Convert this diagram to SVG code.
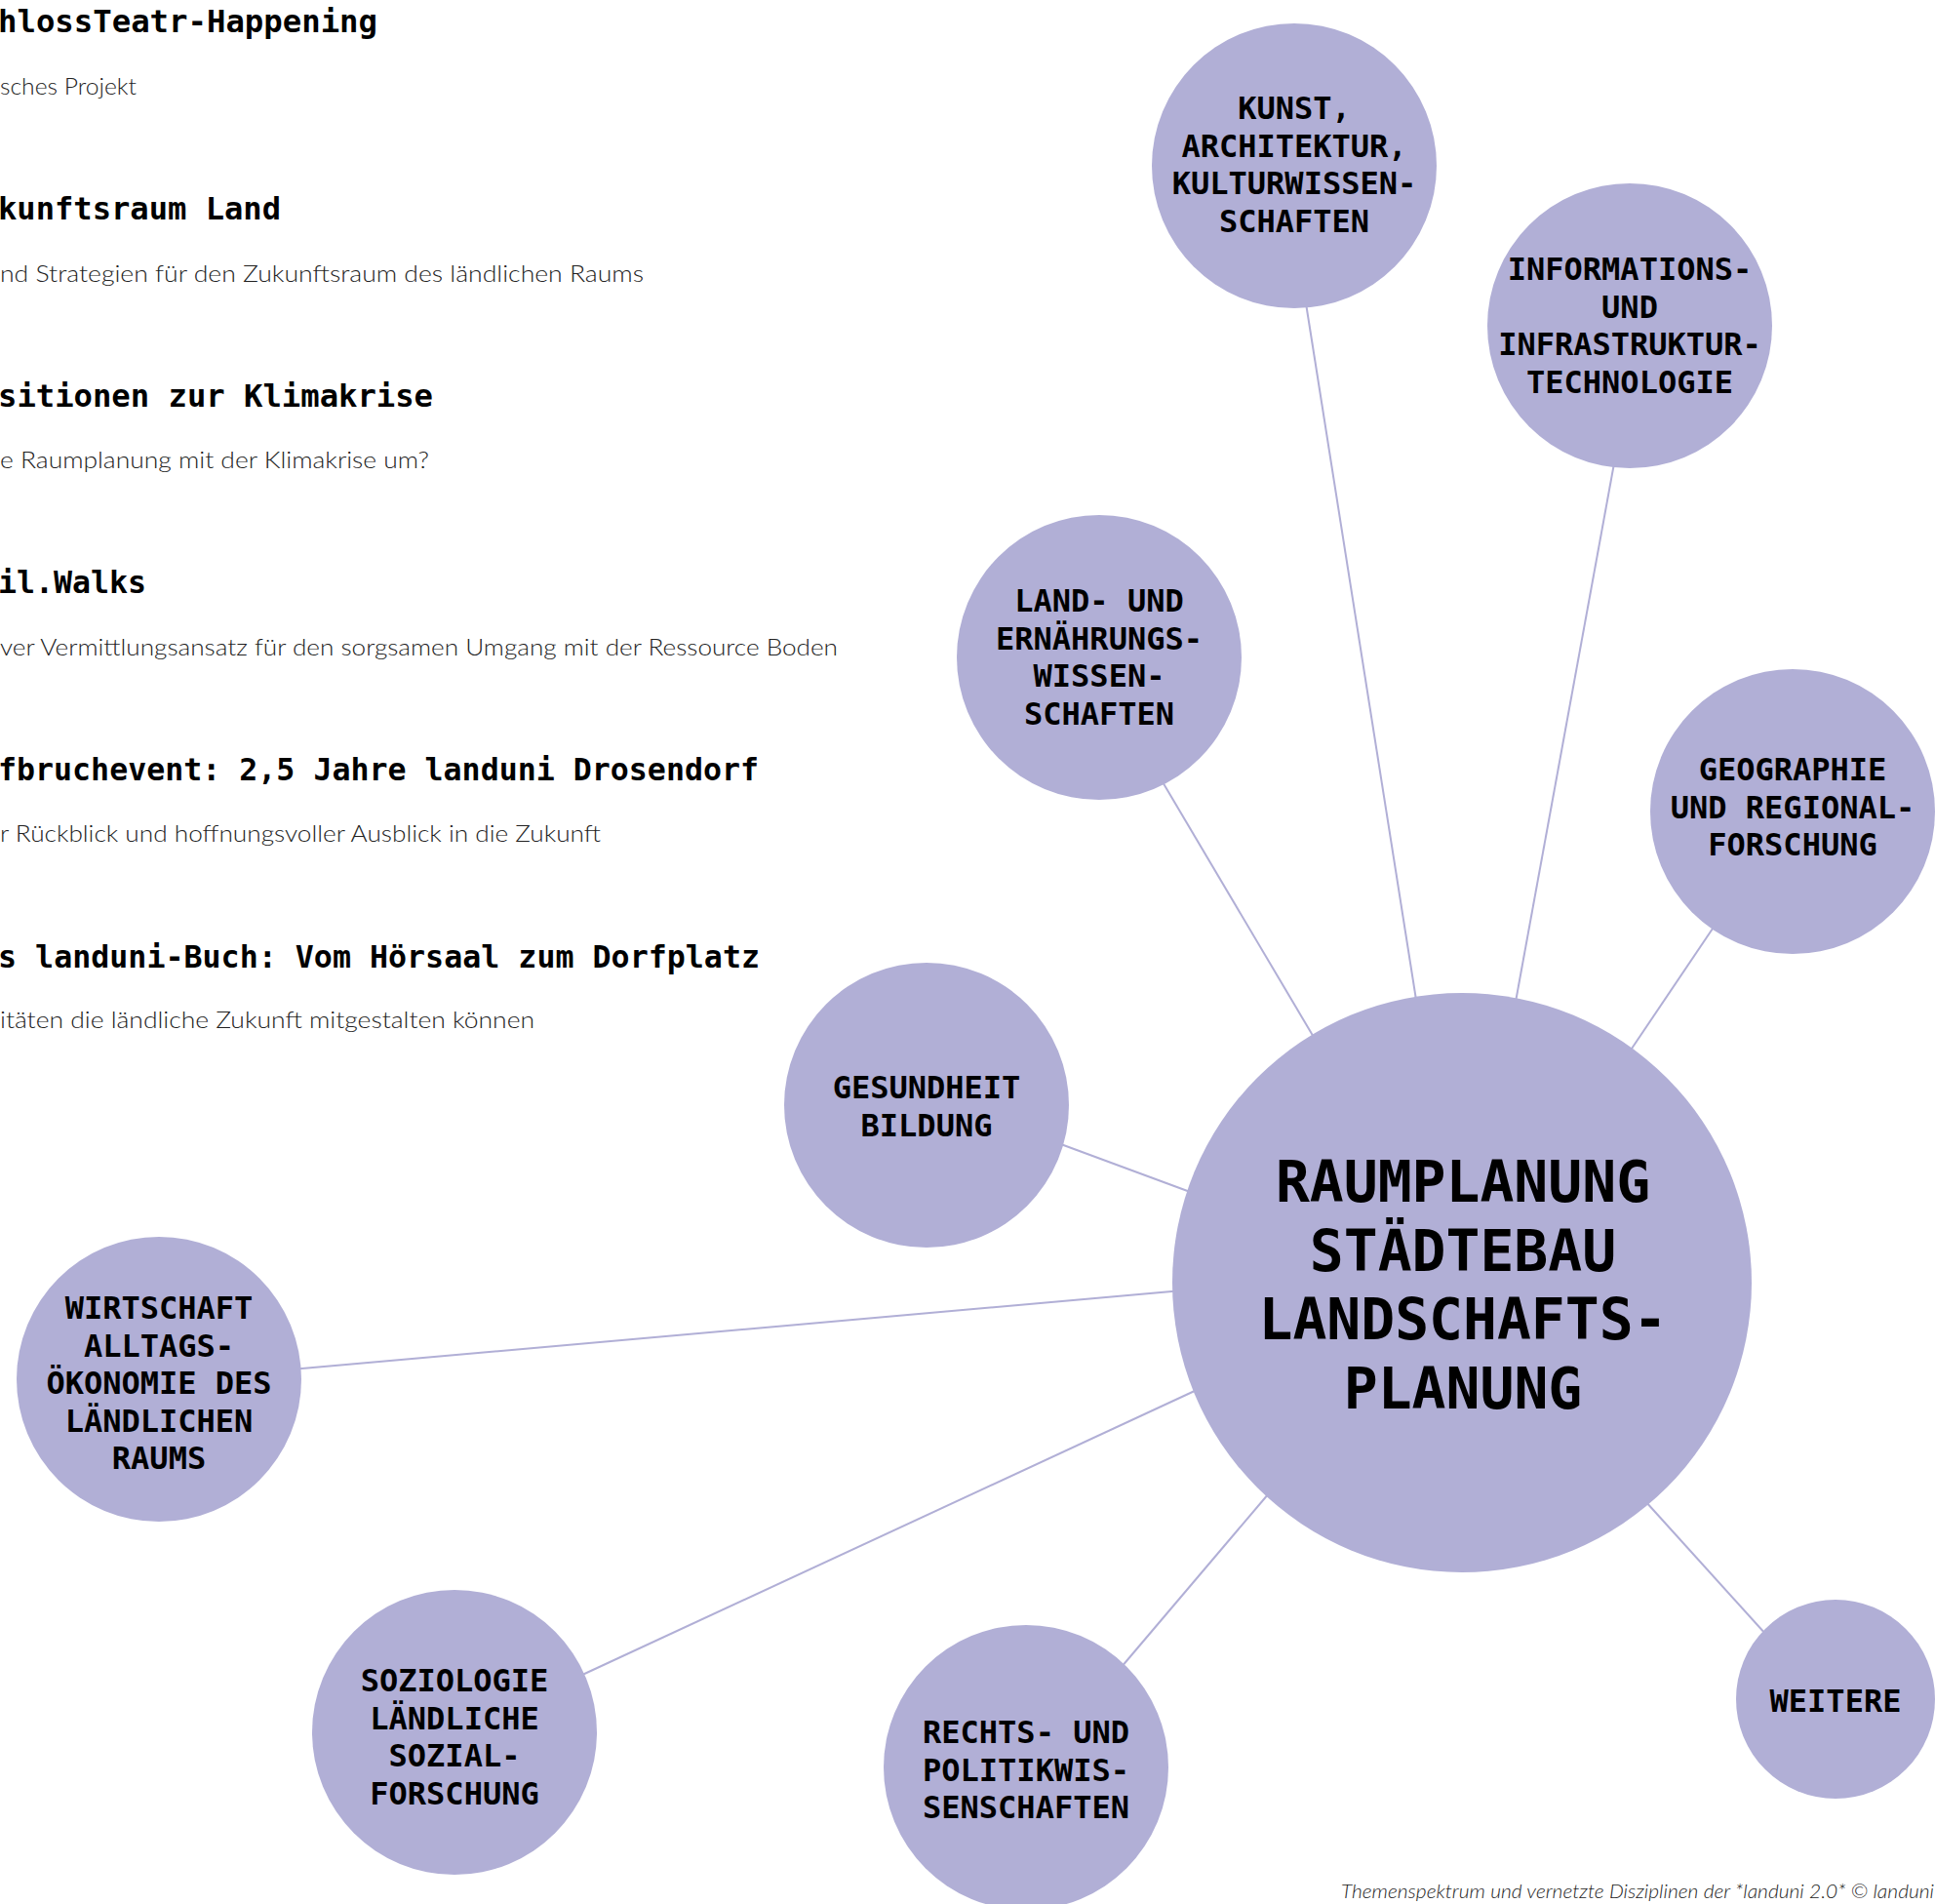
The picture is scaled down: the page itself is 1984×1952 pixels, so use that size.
<svg xmlns="http://www.w3.org/2000/svg" width="1984" height="1952" viewBox="0 0 1984 1952">
<style>
.bg{fill:#ffffff}
.node{fill:#b1afd6}
.edge{stroke:#b1afd6;stroke-width:2;fill:none}
.lbl{font-family:"DejaVu Sans Mono","Liberation Mono",monospace;font-weight:bold;font-size:32px;fill:#000;text-anchor:middle}
.big{font-family:"DejaVu Sans Mono","Liberation Mono",monospace;font-weight:bold;font-size:58px;fill:#000;text-anchor:middle}
.head{font-family:"DejaVu Sans Mono","Liberation Mono",monospace;font-weight:bold;font-size:32px;fill:#000}
.sub{font-family:Lato,"Open Sans","Noto Sans",sans-serif;font-weight:300;font-size:23px;fill:#222}
.cap{font-family:Lato,"Open Sans","Noto Sans",sans-serif;font-weight:300;font-style:italic;font-size:19px;fill:#222}
</style>
<rect class="bg" x="0" y="0" width="1984" height="1952"/>

<g id="list">
<text class="head" x="-2" y="33" textLength="389" lengthAdjust="spacingAndGlyphs">hlossTeatr-Happening</text>
<text class="sub" x="0" y="97" textLength="140" lengthAdjust="spacingAndGlyphs">sches Projekt</text>
<text class="head" x="-2" y="225" textLength="290" lengthAdjust="spacingAndGlyphs">kunftsraum Land</text>
<text class="sub" x="0" y="289" textLength="660" lengthAdjust="spacingAndGlyphs">nd Strategien für den Zukunftsraum des ländlichen Raums</text>
<text class="head" x="-2" y="417" textLength="446" lengthAdjust="spacingAndGlyphs">sitionen zur Klimakrise</text>
<text class="sub" x="0" y="480" textLength="440" lengthAdjust="spacingAndGlyphs">e Raumplanung mit der Klimakrise um?</text>
<text class="head" x="-2" y="608" textLength="152" lengthAdjust="spacingAndGlyphs">il.Walks</text>
<text class="sub" x="0" y="672" textLength="859" lengthAdjust="spacingAndGlyphs">ver Vermittlungsansatz für den sorgsamen Umgang mit der Ressource Boden</text>
<text class="head" x="-2" y="800" textLength="780" lengthAdjust="spacingAndGlyphs">fbruchevent: 2,5 Jahre landuni Drosendorf</text>
<text class="sub" x="0" y="863" textLength="616" lengthAdjust="spacingAndGlyphs">r Rückblick und hoffnungsvoller Ausblick in die Zukunft</text>
<text class="head" x="-2" y="992" textLength="781" lengthAdjust="spacingAndGlyphs">s landuni-Buch: Vom Hörsaal zum Dorfplatz</text>
<text class="sub" x="0" y="1054" textLength="548" lengthAdjust="spacingAndGlyphs">itäten die ländliche Zukunft mitgestalten können</text>
</g>

<g id="connectors">
<line class="edge" x1="1339" y1="311" x2="1452" y2="1025"/>
<line class="edge" x1="1655" y1="475" x2="1554" y2="1027"/>
<line class="edge" x1="1191" y1="800" x2="1348" y2="1065"/>
<line class="edge" x1="1758" y1="949" x2="1671" y2="1078"/>
<line class="edge" x1="1085" y1="1172" x2="1223" y2="1223"/>
<line class="edge" x1="304" y1="1403.5" x2="1207" y2="1323.5"/>
<line class="edge" x1="595" y1="1718" x2="1227" y2="1425"/>
<line class="edge" x1="1149" y1="1710" x2="1301" y2="1531"/>
<line class="edge" x1="1687" y1="1539" x2="1811" y2="1676"/>
</g>

<g id="kunst">
<circle class="node" cx="1327" cy="170" r="146"/>
<text class="lbl" x="1327" y="122">KUNST,</text>
<text class="lbl" x="1327" y="160.5">ARCHITEKTUR,</text>
<text class="lbl" x="1327" y="199">KULTURWISSEN-</text>
<text class="lbl" x="1327" y="237.5">SCHAFTEN</text>
</g>

<g id="information">
<circle class="node" cx="1671" cy="334" r="146"/>
<text class="lbl" x="1671" y="287">INFORMATIONS-</text>
<text class="lbl" x="1671" y="325.5">UND</text>
<text class="lbl" x="1671" y="364">INFRASTRUKTUR-</text>
<text class="lbl" x="1671" y="402.5">TECHNOLOGIE</text>
</g>

<g id="land">
<circle class="node" cx="1127" cy="674" r="146"/>
<text class="lbl" x="1127" y="627">LAND- UND</text>
<text class="lbl" x="1127" y="665.5">ERNÄHRUNGS-</text>
<text class="lbl" x="1127" y="704">WISSEN-</text>
<text class="lbl" x="1127" y="742.5">SCHAFTEN</text>
</g>

<g id="geographie">
<circle class="node" cx="1838" cy="832" r="146"/>
<text class="lbl" x="1838" y="800">GEOGRAPHIE</text>
<text class="lbl" x="1838" y="838.5">UND REGIONAL-</text>
<text class="lbl" x="1838" y="877">FORSCHUNG</text>
</g>

<g id="gesundheit">
<circle class="node" cx="950" cy="1133" r="146"/>
<text class="lbl" x="950" y="1126">GESUNDHEIT</text>
<text class="lbl" x="950" y="1164.5">BILDUNG</text>
</g>

<g id="raumplanung">
<circle class="node" cx="1499" cy="1315" r="297"/>
<text class="big" x="1500" y="1232">RAUMPLANUNG</text>
<text class="big" x="1500" y="1302.5">STÄDTEBAU</text>
<text class="big" x="1500" y="1373">LANDSCHAFTS-</text>
<text class="big" x="1500" y="1443.5">PLANUNG</text>
</g>

<g id="wirtschaft">
<circle class="node" cx="163" cy="1414" r="146"/>
<text class="lbl" x="163" y="1352">WIRTSCHAFT</text>
<text class="lbl" x="163" y="1390.5">ALLTAGS-</text>
<text class="lbl" x="163" y="1429">ÖKONOMIE DES</text>
<text class="lbl" x="163" y="1467.5">LÄNDLICHEN</text>
<text class="lbl" x="163" y="1506">RAUMS</text>
</g>

<g id="soziologie">
<circle class="node" cx="466" cy="1776" r="146"/>
<text class="lbl" x="466" y="1734">SOZIOLOGIE</text>
<text class="lbl" x="466" y="1772.5">LÄNDLICHE</text>
<text class="lbl" x="466" y="1811">SOZIAL-</text>
<text class="lbl" x="466" y="1849.5">FORSCHUNG</text>
</g>

<g id="rechts">
<circle class="node" cx="1052" cy="1812" r="146"/>
<text class="lbl" x="1052" y="1787">RECHTS- UND</text>
<text class="lbl" x="1052" y="1825.5">POLITIKWIS-</text>
<text class="lbl" x="1052" y="1864">SENSCHAFTEN</text>
</g>

<g id="weitere">
<circle class="node" cx="1882" cy="1742" r="102"/>
<text class="lbl" x="1882" y="1755">WEITERE</text>
</g>

<text class="cap" x="1375" y="1946" textLength="608" lengthAdjust="spacingAndGlyphs">Themenspektrum und vernetzte Disziplinen der *landuni 2.0* © landuni</text>
</svg>
